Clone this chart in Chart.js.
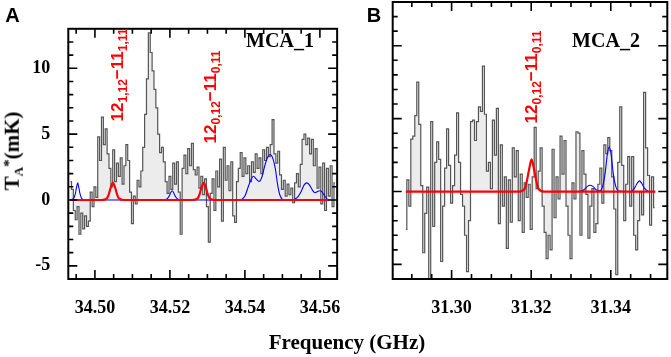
<!DOCTYPE html>
<html>
<head>
<meta charset="utf-8"/>
<style>
  html,body{margin:0;padding:0;background:#fff;}
  #wrap{position:relative;width:671px;height:357px;overflow:hidden;}
  canvas{position:absolute;top:0;}
  .lbl{position:absolute;white-space:nowrap;transform:translate(-50%,-50%);line-height:1;}
  .serif{font-family:"Liberation Serif","DejaVu Serif",serif;font-weight:bold;color:#000;}
  .panel{font-family:"Liberation Sans",Arial,sans-serif;font-weight:bold;font-size:20px;}
  .trans{font-family:"Liberation Sans",Arial,sans-serif;font-weight:bold;font-size:17px;color:#f00;
         transform:translate(-50%,-50%) rotate(-90deg);}
  .trans .sb{font-size:12px;position:relative;top:0.35em;}
  .ytitle{transform:translate(-50%,-50%) rotate(-90deg);font-size:21px;}
  .ytitle sub{font-size:13px;vertical-align:-0.25em;}
  .ytitle sup{font-size:15px;vertical-align:0.35em;}
</style>
</head>
<body>
<div id="wrap">
  <canvas id="cA" width="360" height="357" style="left:0"></canvas>
  <canvas id="cB" width="301" height="357" style="left:370px"></canvas>

  <div class="lbl panel" style="left:12.5px;top:15px">A</div>
  <div class="lbl panel" style="left:374px;top:15px">B</div>
  <div class="lbl serif" style="left:280px;top:40px;font-size:20px">MCA_1</div>
  <div class="lbl serif" style="left:606px;top:40px;font-size:20px">MCA_2</div>

  <div class="lbl trans" style="left:117px;top:75px">12<span class="sb">1,12</span>−11<span class="sb">1,11</span></div>
  <div class="lbl trans" style="left:210px;top:97px">12<span class="sb">0,12</span>−11<span class="sb">0,11</span></div>
  <div class="lbl trans" style="left:531px;top:77px">12<span class="sb">0,12</span>−11<span class="sb">0,11</span></div>

  <div class="lbl serif ytitle" style="left:13px;top:151px">T<sub>A</sub><sup>*</sup>(mK)</div>
  <div class="lbl serif" style="left:347px;top:342px;font-size:21px">Frequency (GHz)</div>
</div>

<script src="https://cdn.jsdelivr.net/npm/chart.js@4.4.0/dist/chart.umd.min.js"></script>
<script>
// ---- panel A (MCA_1) ----
const startA = 34.4935, chanA = 0.0005;
const tA = [1.4,0.8,-0.8,-1.5,-0.5,-2.6,-1.0,-2.2,-1.2,-2.0,
  -1.6,0.6,-0.5,1.0,0.2,4.8,3.0,6.3,4.2,5.4,
  3.5,2.4,1.0,3.8,1.4,2.8,1.8,3.2,1.2,2.6,
  4.2,3.0,0.6,-1.8,0.3,-0.3,1.5,1.0,2.2,4.0,
  6.5,9.2,12.7,11.2,9.8,8.4,7.0,5.0,3.6,4.0,
  2.9,1.4,0.5,1.8,0.8,2.8,1.2,2.9,0.6,-2.6,
  2.4,3.4,2.0,3.9,2.6,4.3,2.3,1.9,2.5,0.9,
  1.8,0.4,1.6,-0.5,-3.2,0.5,1.6,-0.8,2.2,1.0,
  3.1,-1.6,4.0,1.5,2.6,0.7,2.9,-1.2,-1.7,1.4,
  2.4,3.6,1.8,3.2,2.0,2.6,1.4,2.9,2.1,3.5,
  2.4,3.2,2.0,3.8,3.0,4.0,3.3,4.2,6.1,3.5,
  2.8,3.7,1.9,0.8,1.5,0.3,1.2,0.4,0.9,-0.2,
  1.3,2.0,1.0,2.7,4.6,5.0,4.2,4.7,3.5,4.6,
  2.6,3.9,0.9,2.5,-0.3,2.8,-0.8,2.4,0.3,2.6,
  -0.5,1.3];
const redA = [[34.4934,0],[34.5018,0],[34.5032,0.12],[34.5037,0.42],[34.5042,0.93],[34.5048,1.3],[34.5054,0.93],[34.5059,0.42],[34.5064,0.12],[34.5078,0],
  [34.5260,0],[34.5274,0.12],[34.5279,0.42],[34.5284,0.93],[34.5290,1.3],[34.5296,0.93],[34.5301,0.42],[34.5306,0.12],[34.5320,0],[34.5624,0]];
const blueA = [[34.4935,0.02],[34.4944,0.15],[34.4948,0.5],[34.4951,0.95],[34.4954,1.3],[34.4957,0.95],[34.4960,0.5],[34.4964,0.15],[34.4972,0],
  [34.5180,0],[34.5193,0.1],[34.5198,0.3],[34.5202,0.55],[34.5206,0.7],[34.5210,0.55],[34.5214,0.3],[34.5219,0.1],[34.5232,0],
  [34.5385,0],[34.5400,0.3],[34.5410,1.1],[34.5417,1.6],[34.5423,1.8],[34.5430,1.6],[34.5438,1.4],[34.5446,1.8],[34.5453,2.6],[34.5460,3.2],
  [34.5467,3.45],[34.5474,3.2],[34.5481,2.4],[34.5487,1.2],[34.5493,0.4],[34.5500,0.05],[34.5506,0],
  [34.5525,0],[34.5540,0.2],[34.5550,0.65],[34.5558,1.15],[34.5565,1.3],[34.5572,1.15],[34.5580,0.75],[34.5587,0.55],[34.5594,0.65],
  [34.5600,0.7],[34.5606,0.6],[34.5613,0.3],[34.5620,0.05],[34.5625,0]];
const xMinorA = [34.495,34.500,34.505,34.510,34.515,34.520,34.525,34.530,34.535,34.540,34.545,34.550,34.555,34.560];
const xMajorA = [34.50,34.52,34.54,34.56];

// ---- panel B (MCA_2) ----
const startB = 31.2885, chanB = 0.0005;
const tB = [-2.6,0.8,-1.0,3.6,3.8,5.2,7.5,4.6,0.4,-4.2,
  -1.5,0.3,-6.0,4.8,-2.4,2.0,3.4,2.2,-4.8,-1.0,
  1.6,4.3,1.8,-0.8,0.4,2.5,5.4,2.0,-0.2,-1.0,
  -3.0,-5.5,-2.0,4.8,4.9,3.5,4.8,5.8,5.5,8.6,
  5.3,1.4,2.0,0.2,4.9,2.5,5.7,-2.2,3.2,-1.0,
  1.0,-3.9,0.8,-2.1,3.0,1.0,2.8,-2.0,1.2,-2.8,
  0.6,-0.4,0.5,-2.6,1.0,4.4,0.2,1.4,3.0,-1.0,
  -2.8,-4.6,-3.0,-4.0,2.9,-1.8,1.0,-0.5,3.8,1.2,
  3.5,-1.0,-3.0,-4.6,0.6,-0.5,4.1,4.0,-3.0,2.8,
  1.2,-0.2,-3.2,-1.0,0.2,-2.8,-2.2,0.5,1.6,-0.8,
  3.2,2.6,3.7,2.8,1.0,-1.2,-5.7,2.0,5.8,1.8,
  -2.0,0.5,2.4,-1.0,2.4,-3.0,-4.0,-2.0,0.0,-1.6,
  6.8,3.0,1.1,-2.3,1.0,-1.1];
const redB = [[31.2885,0],[31.3170,0],[31.3184,0.2],[31.3189,0.7],[31.3195,1.55],[31.3201,2.2],[31.3207,1.55],[31.3213,0.7],[31.3218,0.2],[31.3232,0],[31.3512,0]];
const blueB = [[31.3322,0],[31.3333,0.12],[31.3341,0.35],[31.3348,0.43],[31.3355,0.35],[31.3364,0.1],[31.3372,0.05],[31.3380,0.4],[31.3386,1.3],
  [31.3391,2.5],[31.3396,3.07],[31.3401,2.5],[31.3406,1.3],[31.3412,0.4],[31.3420,0.03],[31.3450,0],[31.3460,0.25],[31.3466,0.55],
  [31.3472,0.73],[31.3478,0.55],[31.3484,0.25],[31.3494,0]];
const xMinorB = [31.290,31.295,31.300,31.305,31.310,31.315,31.320,31.325,31.330,31.335,31.340,31.345,31.350];
const xMajorB = [31.30,31.32,31.34];

// shared y
const yMinor = [-5,-4,-3,-2,-1,0,1,2,3,4,5,6,7,8,9,10,11,12];
const yMajor = [-5,0,5,10];

const tickFont = { family: "'Liberation Serif','DejaVu Serif',serif", size: 18, weight: 'bold' };

// frame + inward ticks on all four sides
const frameTicks = {
  id: 'frameTicks',
  afterDraw(chart, args, o) {
    const { ctx, chartArea: a, scales: { x, y } } = chart;
    ctx.save();
    ctx.strokeStyle = '#000';
    ctx.lineWidth = 1.6;
    ctx.beginPath();
    o.xMinor.forEach(v => {
      const px = x.getPixelForValue(v);
      const len = o.xMajor.some(m => Math.abs(m - v) < 1e-6) ? 9 : 5;
      ctx.moveTo(px, a.bottom); ctx.lineTo(px, a.bottom - len);
      ctx.moveTo(px, a.top); ctx.lineTo(px, a.top + len);
    });
    yMinor.forEach(v => {
      const py = y.getPixelForValue(v);
      const len = yMajor.includes(v) ? 9 : 5;
      ctx.moveTo(a.left, py); ctx.lineTo(a.left + len, py);
      ctx.moveTo(a.right, py); ctx.lineTo(a.right - len, py);
    });
    ctx.stroke();
    ctx.lineWidth = 2;
    ctx.strokeRect(a.left, a.top, a.right - a.left, a.bottom - a.top);
    ctx.restore();
  }
};

function makePanel(id, o) {
  const spec = o.t.map((v, i) => ({ x: o.start + i * o.chan, y: v }));
  new Chart(document.getElementById(id), {
    type: 'line',
    data: {
      datasets: [
        { data: o.red.map(p => ({ x: p[0], y: p[1] })), borderColor: '#ff0000', borderWidth: 2.2,
          pointRadius: 0, cubicInterpolationMode: 'monotone', fill: false },
        { data: o.blue.map(p => ({ x: p[0], y: p[1] })), borderColor: '#0000ff', borderWidth: 1.1,
          pointRadius: 0, cubicInterpolationMode: 'monotone', fill: false },
        { data: spec, stepped: 'middle', borderColor: '#555555', borderWidth: 1.2,
          backgroundColor: '#ececec', fill: 'origin', pointRadius: 0 }
      ]
    },
    options: {
      responsive: false,
      animation: false,
      devicePixelRatio: 1,
      layout: { padding: { top: 2, right: o.padRight, left: 0, bottom: 0 } },
      plugins: { legend: { display: false }, tooltip: { enabled: false },
                 frameTicks: { xMinor: o.xMinor, xMajor: o.xMajor } },
      scales: {
        x: {
          type: 'linear', min: o.min, max: o.max,
          grid: { display: false, drawTicks: false }, border: { display: false },
          afterBuildTicks: s => { s.ticks = o.xMajor.map(v => ({ value: v })); },
          afterFit: s => { s.height = 78; },
          ticks: { font: tickFont, color: '#000', padding: 19, maxRotation: 0,
                   callback: v => v.toFixed(2) }
        },
        y: {
          min: -6, max: 13,
          grid: { display: false, drawTicks: false }, border: { display: false },
          afterBuildTicks: s => { s.ticks = yMajor.map(v => ({ value: v })); },
          afterFit: s => { s.width = o.yWidth; },
          ticks: { display: o.showY, font: tickFont, color: '#000', padding: 18 }
        }
      }
    },
    plugins: [frameTicks]
  });
}

makePanel('cA', { t: tA, start: startA, chan: chanA, red: redA, blue: blueA,
  xMinor: xMinorA, xMajor: xMajorA, min: 34.4929, max: 34.5646, padRight: 13.3, yWidth: 68.3, showY: true });
makePanel('cB', { t: tB, start: startB, chan: chanB, red: redB, blue: blueB,
  xMinor: xMinorB, xMajor: xMajorB, min: 31.2852, max: 31.3542, padRight: 3.7, yWidth: 22.7, showY: false });
</script>
</body>
</html>
